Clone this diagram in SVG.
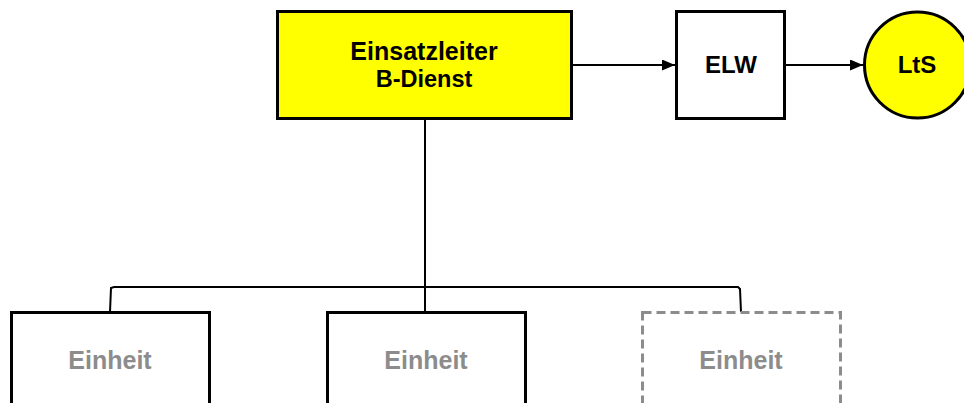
<svg xmlns="http://www.w3.org/2000/svg" width="964" height="403" viewBox="0 0 964 403">
<style>
.box{fill:#fff;stroke:#000;stroke-width:3}
.yel{fill:#ffff00;stroke:#000;stroke-width:3}
.dash{fill:#fff;stroke:#8c8c8c;stroke-width:3;stroke-dasharray:9 5}
.ln{fill:none;stroke:#000;stroke-width:2}
.t{font-family:"Liberation Sans",Arial,sans-serif;font-weight:bold;font-size:25px;text-anchor:middle;fill:#000}
.g{fill:#8c8c8c}
</style>
<defs>
<marker id="ah" markerWidth="13" markerHeight="11" refX="13" refY="5.5" orient="auto" markerUnits="userSpaceOnUse">
<path d="M0,0 L13,5.5 L0,11 Z" fill="#000"/>
</marker>
</defs>
<g id="connectors">
<line class="ln" x1="572" y1="65" x2="675" y2="65" marker-end="url(#ah)"/>
<line class="ln" x1="786" y1="65" x2="863" y2="65" marker-end="url(#ah)"/>
<line class="ln" x1="425" y1="119" x2="425" y2="312"/>
<polyline class="ln" points="110,312 111,288 114,287 738,287 740,289 741,312"/>
</g>
<g id="einsatzleiter">
<rect class="yel" x="277.5" y="11.5" width="294" height="107"/>
<text class="t" x="424" y="60">Einsatzleiter</text>
<text class="t" x="424" y="87" style="font-size:23.5px">B-Dienst</text>
</g>
<g id="elw">
<rect class="box" x="676.5" y="11.5" width="108" height="107"/>
<text class="t" x="731" y="73" style="font-size:24px">ELW</text>
</g>
<g id="lts">
<circle class="yel" cx="917.5" cy="65" r="53"/>
<text class="t" x="917" y="73" style="font-size:24px">LtS</text>
</g>
<g id="einheit1">
<rect class="box" x="11.5" y="312.5" width="198" height="100"/>
<text class="t g" x="110" y="369">Einheit</text>
</g>
<g id="einheit2">
<rect class="box" x="327.5" y="312.5" width="198" height="100"/>
<text class="t g" x="426" y="369">Einheit</text>
</g>
<g id="einheit3">
<rect class="dash" x="642.5" y="312.5" width="198" height="100"/>
<text class="t g" x="741" y="369">Einheit</text>
</g>
</svg>
